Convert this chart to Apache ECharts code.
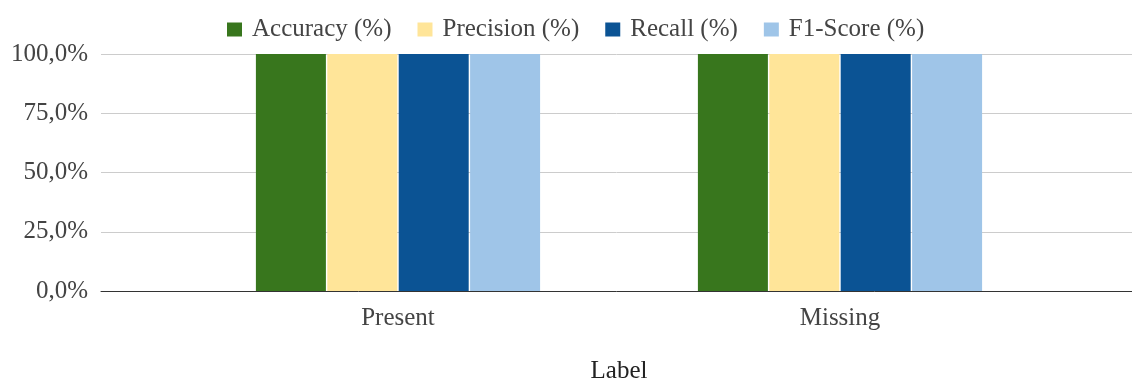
<!DOCTYPE html>
<html>
<head>
<meta charset="utf-8">
<script src="https://cdn.jsdelivr.net/npm/echarts@6/dist/echarts.min.js"></script>
<style>
    html, body { margin: 0; padding: 0; background: #fff; }
    #chart { width: 1132px; height: 383px; }
</style>
</head>
<body>
<div id="chart"></div>
<script>
// data
const categories = ['Present', 'Missing'];
const seriesNames = ['Accuracy (%)', 'Precision (%)', 'Recall (%)', 'F1-Score (%)'];
const accuracy = [100, 100];
const precision = [100, 100];
const recall = [100, 100];
const f1Score = [100, 100];
const yTicks = [0, 25, 50, 75, 100];

const colors = ['#38761d', '#ffe599', '#0b5394', '#9fc5e8'];
const font = '"Liberation Serif", "Times New Roman", serif';

const chart = echarts.init(document.getElementById('chart'));

const values = [accuracy, precision, recall, f1Score];
const series = [];
for (let i = 0; i < seriesNames.length; i++) {
    series.push({
        name: seriesNames[i],
        type: 'bar',
        xAxisIndex: 1,
        yAxisIndex: 1,
        barWidth: 70,
        barGap: '2%',
        itemStyle: { color: colors[i] },
        data: values[i]
    });
}

const option = {
    animation: false,
    color: colors,
    legend: {
        top: 12,
        left: 222,
        itemWidth: 15,
        itemHeight: 14,
        itemGap: 26,
        icon: 'rect',
        textStyle: { fontFamily: font, fontSize: 25, color: '#444', padding: [0, 0, 0, 5] },
        data: seriesNames
    },
    grid: [
        // background grid: gridlines, y labels, axis line
        { left: 101, right: 0, top: 54, bottom: 92, outerBoundsMode: 'none', containLabel: false },
        // bars
        { left: 177, right: 71, top: 54, bottom: 92, outerBoundsMode: 'none', containLabel: false }
    ],
    xAxis: [
        {
            type: 'category',
            gridIndex: 0,
            data: [''],
            axisLine: { lineStyle: { color: '#333', width: 1 } },
            axisTick: { show: false },
            axisLabel: { show: false }
        },
        {
            type: 'category',
            gridIndex: 1,
            data: categories,
            axisLine: { show: false },
            axisTick: { show: false },
            axisLabel: { fontFamily: font, fontSize: 25, color: '#444', margin: 15 },
            name: 'Label',
            nameLocation: 'middle',
            nameGap: 68,
            nameTextStyle: { fontFamily: font, fontSize: 25, color: '#222' }
        }
    ],
    yAxis: [
        {
            type: 'value',
            gridIndex: 0,
            min: yTicks[0],
            max: yTicks[yTicks.length - 1],
            interval: 25,
            axisLine: { show: false },
            axisTick: { show: false },
            splitLine: { lineStyle: { color: '#cccccc', width: 1 } },
            axisLabel: {
                fontFamily: font,
                fontSize: 25,
                color: '#444',
                margin: 13,
                formatter: v => v.toFixed(1).replace('.', ',') + '%'
            }
        },
        {
            type: 'value',
            gridIndex: 1,
            min: 0,
            max: 100,
            show: false
        }
    ],
    series: series
};

chart.setOption(option);
</script>
</body>
</html>
